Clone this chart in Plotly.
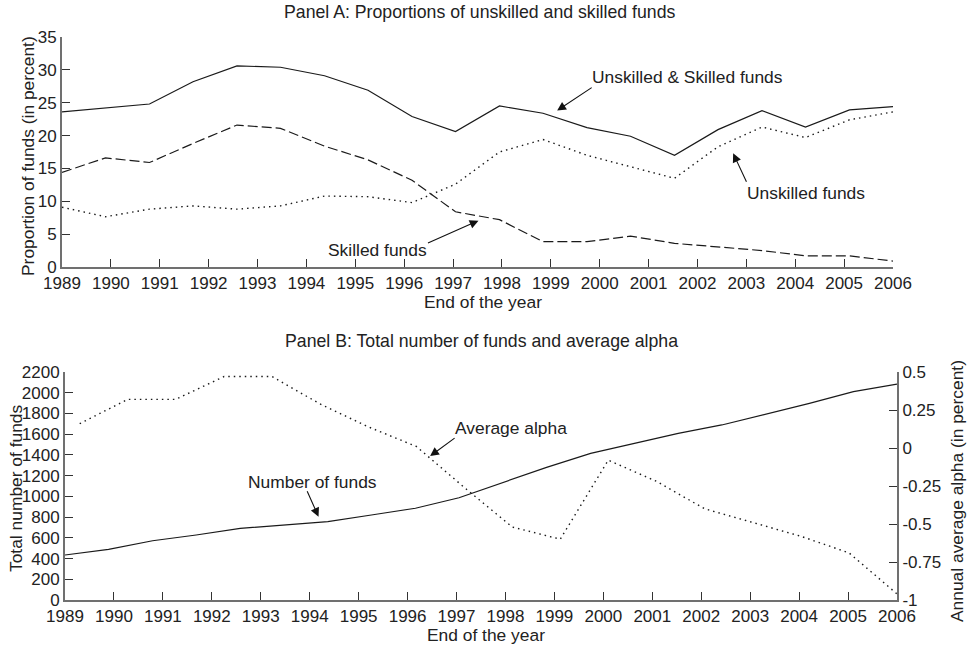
import plotly.graph_objects as go

# ---- Panel A data ----
xA = [1989.0, 1989.89, 1990.79, 1991.68, 1992.58, 1993.47, 1994.37, 1995.26, 1996.16, 1997.05,
      1997.95, 1998.84, 1999.74, 2000.63, 2001.53, 2002.42, 2003.32, 2004.21, 2005.11, 2006.0]
both_funds = [23.6, 24.2, 24.8, 28.2, 30.6, 30.4, 29.1, 26.9, 22.9, 20.6,
              24.5, 23.4, 21.2, 19.9, 17.0, 20.9, 23.8, 21.3, 23.9, 24.4]
skilled_funds = [14.4, 16.6, 15.9, 18.8, 21.6, 21.1, 18.4, 16.3, 13.2, 8.4,
                 7.2, 3.85, 3.85, 4.7, 3.6, 3.1, 2.5, 1.7, 1.7, 0.9]
unskilled_funds = [9.1, 7.65, 8.8, 9.3, 8.8, 9.3, 10.8, 10.7, 9.8, 12.6,
                   17.5, 19.4, 17.0, 15.2, 13.5, 18.3, 21.3, 19.7, 22.4, 23.6]

# ---- Panel B data ----
number_of_funds = [434, 489, 572, 627, 691, 724, 756, 820, 885, 987,
                   1132, 1280, 1415, 1512, 1608, 1689, 1792, 1898, 2010, 2084]
xB = [1989.3, 1990.28, 1991.26, 1992.25, 1993.23, 1994.21, 1995.19, 1996.18, 1997.16,
      1998.14, 1999.12, 2000.1, 2001.09, 2002.07, 2003.05, 2004.03, 2005.02, 2006.0]
average_alpha = [0.16, 0.32, 0.32, 0.47, 0.47, 0.29, 0.14, 0.01, -0.26,
                 -0.52, -0.60, -0.08, -0.22, -0.40, -0.49, -0.58, -0.69, -0.96]

years = list(range(1989, 2007))
yA_ticks = [0, 5, 10, 15, 20, 25, 30, 35]
yB_ticks = list(range(0, 2201, 200))
yB2_ticks = [-1, -0.75, -0.5, -0.25, 0, 0.25, 0.5]
yB2_labels = ["-1", "-0.75", "-0.5", "-0.25", "0", "0.25", "0.5"]

FONT = "Liberation Sans, Arial, Helvetica, sans-serif"
LC = "#1a1a1a"
AXC = "#707070"
TXT = "#222"
W, H = 969, 647
FS_TICK = 17
FS_TEXT = 17.4

fig = go.Figure()
fig.add_trace(go.Scatter(x=xA, y=both_funds, mode="lines", line=dict(color=LC, width=1.2),
                         xaxis="x", yaxis="y"))
fig.add_trace(go.Scatter(x=xA, y=skilled_funds, mode="lines",
                         line=dict(color=LC, width=1.2, dash="10px,4px"), xaxis="x", yaxis="y"))
fig.add_trace(go.Scatter(x=xA, y=unskilled_funds, mode="lines",
                         line=dict(color=LC, width=1.4, dash="1.5px,4px"), xaxis="x", yaxis="y"))
fig.add_trace(go.Scatter(x=xA, y=number_of_funds, mode="lines", line=dict(color=LC, width=1.2),
                         xaxis="x2", yaxis="y2"))
fig.add_trace(go.Scatter(x=xB, y=average_alpha, mode="lines",
                         line=dict(color=LC, width=1.4, dash="1.5px,4px"), xaxis="x2", yaxis="y3"))

common_x = dict(range=[1989, 2006], tickmode="array", tickvals=years, ticktext=[str(y) for y in years],
                showline=True, linecolor=AXC, linewidth=2, ticks="inside", ticklen=8,
                tickcolor="#333", tickwidth=1.2, showgrid=False, zeroline=False, automargin=False,
                tickfont=dict(size=FS_TICK, color=TXT))
common_y = dict(showline=True, linecolor=AXC, linewidth=2, ticks="inside", ticklen=8,
                tickcolor="#333", tickwidth=1.2, showgrid=False, zeroline=False, automargin=False,
                tickfont=dict(size=FS_TICK, color=TXT))

fig.update_layout(
    width=W, height=H, margin=dict(l=0, r=0, t=0, b=0, pad=0, autoexpand=False),
    paper_bgcolor="white", plot_bgcolor="white", showlegend=False,
    font=dict(family=FONT, size=FS_TEXT, color=TXT),
    xaxis=dict(domain=[62 / W, 893 / W], anchor="y", **common_x),
    yaxis=dict(domain=[1 - 267 / H, 1 - 37 / H], anchor="x", range=[0, 35],
               tickmode="array", tickvals=yA_ticks, **common_y),
    xaxis2=dict(domain=[65 / W, 897 / W], anchor="y2", **common_x),
    yaxis2=dict(domain=[1 - 600 / H, 1 - 372 / H], anchor="x2", range=[0, 2200],
                tickmode="array", tickvals=yB_ticks, **common_y),
    yaxis3=dict(overlaying="y2", side="right", anchor="x2", range=[-1, 0.5],
                tickmode="array", tickvals=yB2_ticks, ticktext=yB2_labels, **common_y),
)

ann = []
def txt(x, y, s, xref="paper", yref="paper", angle=0, size=FS_TEXT):
    ann.append(dict(x=x, y=y, xref=xref, yref=yref, text=s, showarrow=False,
                    textangle=angle, font=dict(size=size, color=TXT),
                    xanchor="center", yanchor="middle"))

def arrow(x, y, ax, ay, xref, yref):
    ann.append(dict(x=x, y=y, xref=xref, yref=yref, text="", showarrow=True, ax=ax, ay=ay,
                    arrowhead=2, arrowsize=1.6, arrowwidth=1.1, arrowcolor="#111"))

# Titles and axis titles (paper coords)
txt(479 / W, 1 - 12 / H, "Panel A: Proportions of unskilled and skilled funds", size=17.7)
txt(483 / W, 1 - 302 / H, "End of the year")
txt(28 / W, 1 - 156 / H, "Proportion of funds (in percent)", angle=-90)
txt(481 / W, 1 - 341 / H, "Panel B: Total number of funds and average alpha", size=17.7)
txt(486 / W, 1 - 635 / H, "End of the year")
txt(16 / W, 1 - 488 / H, "Total number of funds", angle=-90)
txt(957 / W, 1 - 491 / H, "Annual average alpha (in percent)", angle=-90)

# In-plot labels
txt(2001.79, 28.96, "Unskilled &amp; Skilled funds", "x", "y")
arrow(1999.13, 23.8, 36, -24, "x", "y")
txt(2004.21, 11.2, "Unskilled funds", "x", "y")
arrow(2002.73, 17.3, 14, 30, "x", "y")
txt(1995.46, 2.59, "Skilled funds", "x", "y")
arrow(1997.52, 7.05, -52, 23, "x", "y")
txt(1994.06, 1141, "Number of funds", "x2", "y2")
arrow(1994.18, 804, -12, -27, "x2", "y2")
txt(1998.12, 1657, "Average alpha", "x2", "y2")
arrow(1996.46, 1389, 26, -19, "x2", "y2")

fig.update_layout(annotations=ann)
fig.write_html(
    "out.html",
    config={"displayModeBar": False},
    post_script="document.body.style.margin='0';document.body.style.overflow='hidden';",
)
